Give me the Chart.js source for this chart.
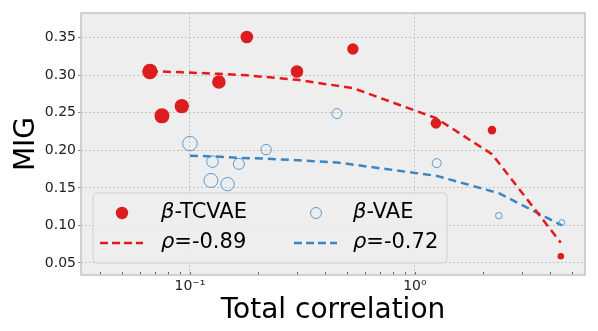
<!DOCTYPE html>
<html>
<head>
<meta charset="utf-8">
<script src="https://cdn.jsdelivr.net/npm/chart.js@4/dist/chart.umd.min.js"></script>
<style>
  html, body { margin: 0; padding: 0; background: #fff; }
  #wrap { width: 598px; height: 331px; }
</style>
</head>
<body>
<div id="wrap"><canvas id="chart" width="598" height="331"></canvas></div>
<script>
// β-TCVAE runs: total correlation vs MIG
const tcvaeTC  = [0.0664, 0.0751, 0.092, 0.1345, 0.179, 0.299, 0.53, 1.24, 2.2, 4.45];
const tcvaeMIG = [0.305, 0.246, 0.259, 0.291, 0.351, 0.305, 0.335, 0.236, 0.227, 0.059];
const tcvaeFit = [0.305, 0.305, 0.304, 0.302, 0.300, 0.294, 0.283, 0.243, 0.195, 0.077];

// β-VAE runs
const vaeTC  = [0.1, 0.124, 0.126, 0.147, 0.165, 0.218, 0.45, 1.25, 2.36, 4.5];
const vaeMIG = [0.209, 0.160, 0.185, 0.155, 0.182, 0.201, 0.249, 0.183, 0.113, 0.104];
const vaeFit = [0.193, 0.192, 0.192, 0.191, 0.190, 0.189, 0.184, 0.166, 0.143, 0.100];

const yTicks = [0.05, 0.10, 0.15, 0.20, 0.25, 0.30, 0.35];
const xMajorTicks = [0.1, 1];
const xMinorTicks = [0.04, 0.05, 0.06, 0.07, 0.08, 0.09, 0.2, 0.3, 0.4, 0.5, 0.6, 0.7, 0.8, 0.9, 2, 3, 4, 5];
const seriesNames = ['β-TCVAE', 'β-VAE'];
const fitNames = ['ρ=-0.89', 'ρ=-0.72'];

// marker sizes (px radius)
const tcvaeRadius = [7.7, 7.5, 7.2, 6.8, 6.3, 6.3, 5.7, 5.3, 4.3, 3.3];
const vaeRadius = [7.3, 7.0, 5.8, 6.7, 5.5, 5.2, 5.0, 4.5, 3.3, 2.8];

const RED = '#dd1c1f';
const RED_LINE = '#e41a1c';
const BLUE = '#5b9bd0';
const BLUE_LINE = '#3a85c2';
const GRID = '#c2c2c2';
const FONT = "'DejaVu Sans', sans-serif";

const pts = (xs, ys) => xs.map((x, i) => ({ x: x, y: ys[i] }));
const superscript = { '-': '⁻', '0': '⁰', '1': '¹', '2': '²' };
const logLabel = v => '10' + String(Math.round(Math.log10(v))).split('').map(c => superscript[c]).join('');

const framePlugin = {
    id: 'frame',
    beforeDraw(chart) {
        const { ctx, chartArea: a } = chart;
        ctx.save();
        ctx.fillStyle = '#eeeeee';
        ctx.fillRect(a.left, a.top, a.right - a.left, a.bottom - a.top);
        ctx.restore();
    },
    afterDraw(chart) {
        const { ctx, chartArea: a } = chart;
        const xs = chart.scales.x;
        ctx.save();
        // inward tick marks on the log axis
        ctx.strokeStyle = '#666';
        ctx.lineWidth = 1;
        xs.ticks.forEach(t => {
            const px = Math.round(xs.getPixelForValue(t.value)) + 0.5;
            ctx.beginPath();
            ctx.moveTo(px, a.bottom);
            ctx.lineTo(px, a.bottom - 3);
            ctx.stroke();
        });
        ctx.strokeStyle = '#c4c4c4';
        ctx.lineWidth = 1.5;
        ctx.strokeRect(a.left, a.top, a.right - a.left, a.bottom - a.top);
        ctx.restore();
    }
};

const legendPlugin = {
    id: 'boxLegend',
    afterDatasetsDraw(chart) {
        const ctx = chart.ctx;
        const x0 = 93, y0 = 193, w = 354, h = 70;
        ctx.save();
        ctx.beginPath();
        ctx.roundRect(x0, y0, w, h, 4);
        ctx.fillStyle = 'rgba(238,238,238,0.8)';
        ctx.fill();
        ctx.strokeStyle = '#d0d0d0';
        ctx.lineWidth = 1;
        ctx.stroke();

        const cols = [
            { mark: 122, lineFrom: 100, lineTo: 143, text: 161, color: RED, lineColor: RED_LINE, filled: true },
            { mark: 316, lineFrom: 294, lineTo: 337, text: 353, color: BLUE, lineColor: BLUE_LINE, filled: false }
        ];
        const row1 = 213, row2 = 243;
        cols.forEach((c, i) => {
            // marker
            ctx.beginPath();
            ctx.arc(c.mark, row1, c.filled ? 6.2 : 5.5, 0, Math.PI * 2);
            if (c.filled) { ctx.fillStyle = c.color; ctx.fill(); }
            else { ctx.strokeStyle = c.color; ctx.lineWidth = 1; ctx.stroke(); }
            // dashed line
            ctx.beginPath();
            ctx.setLineDash([8, 4]);
            ctx.strokeStyle = c.lineColor;
            ctx.lineWidth = 2.5;
            ctx.moveTo(c.lineFrom, row2);
            ctx.lineTo(c.lineTo, row2);
            ctx.stroke();
            ctx.setLineDash([]);
            // text: greek letter italic, rest upright
            ctx.fillStyle = '#000';
            ctx.textBaseline = 'middle';
            [[seriesNames[i], row1], [fitNames[i], row2]].forEach(([label, y]) => {
                const greek = label.charAt(0);
                const rest = label.slice(1);
                ctx.font = 'italic 21px ' + FONT;
                ctx.fillText(greek, c.text, y);
                const gw = ctx.measureText(greek).width;
                ctx.font = '21px ' + FONT;
                ctx.fillText(rest, c.text + gw, y);
            });
        });
        ctx.restore();
    }
};

new Chart(document.getElementById('chart'), {
    type: 'scatter',
    data: {
        datasets: [
            {
                label: seriesNames[0],
                data: pts(tcvaeTC, tcvaeMIG),
                pointRadius: tcvaeRadius,
                pointHoverRadius: tcvaeRadius,
                backgroundColor: RED,
                borderWidth: 0,
                order: 0
            },
            {
                label: seriesNames[1],
                data: pts(vaeTC, vaeMIG),
                pointRadius: vaeRadius,
                pointHoverRadius: vaeRadius,
                backgroundColor: 'rgba(0,0,0,0)',
                borderColor: BLUE,
                borderWidth: 1,
                order: 1
            },
            {
                type: 'line',
                label: fitNames[0],
                data: pts(tcvaeTC, tcvaeFit),
                borderColor: RED_LINE,
                borderWidth: 2.5,
                borderDash: [8, 5],
                pointRadius: 0,
                fill: false,
                order: 2
            },
            {
                type: 'line',
                label: fitNames[1],
                data: pts(vaeTC, vaeFit),
                borderColor: BLUE_LINE,
                borderWidth: 2.5,
                borderDash: [8, 5],
                pointRadius: 0,
                fill: false,
                order: 3
            }
        ]
    },
    options: {
        responsive: false,
        animation: false,
        layout: { padding: { top: 13, right: 13, left: 0, bottom: 0 } },
        plugins: {
            legend: { display: false },
            tooltip: { enabled: false }
        },
        scales: {
            x: {
                type: 'logarithmic',
                min: 0.0328,
                max: 5.7,
                afterBuildTicks: (scale) => {
                    scale.ticks = xMinorTicks.concat(xMajorTicks)
                        .sort((a, b) => a - b)
                        .map(v => ({ value: v, major: xMajorTicks.includes(v) }));
                },
                afterFit: (scale) => { scale.height = 56; },
                ticks: {
                    autoSkip: false,
                    maxRotation: 0,
                    padding: 3,
                    color: '#222',
                    font: { family: FONT, size: 14 },
                    callback: (v) => xMajorTicks.includes(v) ? logLabel(v) : ''
                },
                grid: {
                    drawTicks: false,
                    lineWidth: 1,
                    color: (c) => (c.tick && xMajorTicks.includes(c.tick.value)) ? GRID : 'rgba(0,0,0,0)'
                },
                border: { display: false, dash: [2, 2] },
                title: {
                    display: true,
                    text: 'Total correlation',
                    color: '#000',
                    font: { family: FONT, size: 28 },
                    padding: { top: 0, bottom: 3 }
                }
            },
            y: {
                min: 0.034,
                max: 0.383,
                afterBuildTicks: (scale) => {
                    scale.ticks = yTicks.map(v => ({ value: v }));
                },
                afterFit: (scale) => { scale.width = 81; },
                ticks: {
                    padding: 2,
                    color: '#222',
                    font: { family: FONT, size: 14 },
                    callback: (v) => v.toFixed(2)
                },
                grid: {
                    color: GRID,
                    lineWidth: 1,
                    tickLength: 3,
                    tickColor: '#888',
                    tickBorderDash: []
                },
                border: { display: false, dash: [2, 2] },
                title: {
                    display: true,
                    text: 'MIG',
                    color: '#000',
                    font: { family: FONT, size: 28 },
                    padding: { top: 10, bottom: 0 }
                }
            }
        }
    },
    plugins: [framePlugin, legendPlugin]
});
</script>
</body>
</html>
